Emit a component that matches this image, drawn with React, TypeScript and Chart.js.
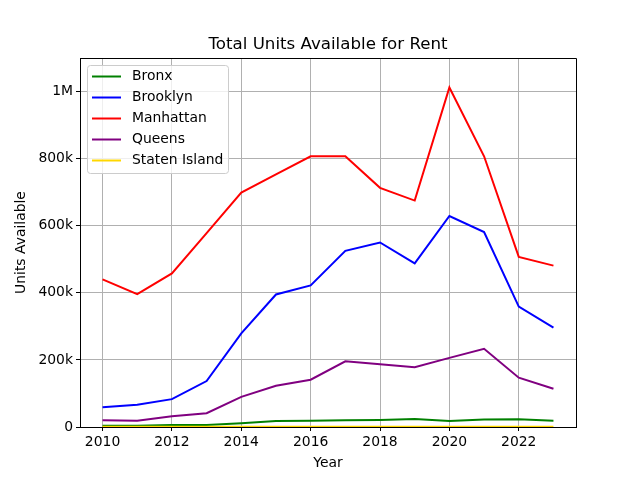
import React, { useEffect, useRef } from "react";
import { Chart, registerables } from "chart.js";

Chart.register(...registerables);

const years = [2010, 2011, 2012, 2013, 2014, 2015, 2016, 2017, 2018, 2019, 2020, 2021, 2022, 2023];
const bronx = [4000, 4000, 6000, 6000, 11000, 18000, 19000, 20000, 21000, 24000, 18000, 22000, 23000, 19000];
const brooklyn = [59000, 66000, 83000, 137000, 279000, 395000, 422000, 525000, 550000, 488000, 629000, 581000, 359000, 296000];
const manhattan = [440000, 396000, 458000, 578000, 699000, 753000, 807000, 807000, 713000, 675000, 1012000, 807000, 507000, 481000];
const queens = [20000, 19000, 32000, 41000, 90000, 123000, 141000, 196000, 187000, 178000, 206000, 233000, 147000, 114000];
const statenIsland = [1000, 1000, 1000, 1000, 1000, 1000, 1000, 1000, 1000, 1000, 1000, 1000, 1000, 1000];

const seriesNames = ["Bronx", "Brooklyn", "Manhattan", "Queens", "Staten Island"];
const seriesValues = [bronx, brooklyn, manhattan, queens, statenIsland];
const seriesColors = ["#008000", "#0000ff", "#ff0000", "#800080", "#ffd700"];

const xTicks = [2010, 2012, 2014, 2016, 2018, 2020, 2022];
const yTicks = [0, 200000, 400000, 600000, 800000, 1000000];

const FONT = "'DejaVu Sans', sans-serif";

function fmtY(v: number): string {
  if (v === 0) return "0";
  if (v >= 1000000) return v / 1000000 + "M";
  return v / 1000 + "k";
}

const framePlugin = {
  id: "frameAndLegend",
  afterDatasetsDraw(chart: any) {
    const { ctx, chartArea } = chart;
    ctx.save();
    // spines
    const l = Math.round(chartArea.left) + 0.5;
    const t = Math.round(chartArea.top) + 0.5;
    const r0 = Math.round(chartArea.right) + 0.5;
    const b = Math.round(chartArea.bottom) + 0.5;
    ctx.strokeStyle = "#000000";
    ctx.lineWidth = 1;
    ctx.beginPath();
    ctx.moveTo(l, t);
    ctx.lineTo(r0, t);
    ctx.lineTo(r0, b);
    ctx.lineTo(l, b);
    ctx.closePath();
    ctx.stroke();
    // legend
    const lx = chartArea.left + 7.5;
    const ly = chartArea.top + 7.5;
    const lw = 141;
    const lh = 108;
    const r = 3;
    ctx.beginPath();
    ctx.moveTo(lx + r, ly);
    ctx.lineTo(lx + lw - r, ly);
    ctx.arcTo(lx + lw, ly, lx + lw, ly + r, r);
    ctx.lineTo(lx + lw, ly + lh - r);
    ctx.arcTo(lx + lw, ly + lh, lx + lw - r, ly + lh, r);
    ctx.lineTo(lx + r, ly + lh);
    ctx.arcTo(lx, ly + lh, lx, ly + lh - r, r);
    ctx.lineTo(lx, ly + r);
    ctx.arcTo(lx, ly, lx + r, ly, r);
    ctx.closePath();
    ctx.fillStyle = "rgba(255,255,255,0.8)";
    ctx.fill();
    ctx.strokeStyle = "#cccccc";
    ctx.lineWidth = 1;
    ctx.stroke();
    ctx.font = "13.9px " + FONT;
    ctx.textBaseline = "middle";
    ctx.textAlign = "left";
    chart.data.datasets.forEach((ds: any, i: number) => {
      const cy = ly + 11 + i * 21;
      ctx.strokeStyle = ds.borderColor;
      ctx.lineWidth = 2;
      ctx.beginPath();
      ctx.moveTo(lx + 4.5, cy);
      ctx.lineTo(lx + 33.5, cy);
      ctx.stroke();
      ctx.fillStyle = "#000000";
      ctx.fillText(ds.label, lx + 44.5, cy);
    });
    ctx.restore();
  },
};

export default function App() {
  const canvasRef = useRef<HTMLCanvasElement | null>(null);

  useEffect(() => {
    if (!canvasRef.current) return;
    const datasets = seriesNames.map((name, i) => ({
      label: name,
      data: years.map((y, j) => ({ x: y, y: seriesValues[i][j] })),
      borderColor: seriesColors[i],
      backgroundColor: seriesColors[i],
      borderWidth: 2,
      pointRadius: 0,
      tension: 0,
      fill: false,
      order: seriesNames.length - i,
    }));
    const chart = new Chart(canvasRef.current, {
      type: "line",
      data: { datasets },
      options: {
        responsive: false,
        animation: false,
        devicePixelRatio: 1,
        layout: { padding: { left: 0, right: 64, top: 0, bottom: 0 } },
        plugins: {
          legend: { display: false },
          tooltip: { enabled: false },
          title: {
            display: true,
            fullSize: false,
            text: "Total Units Available for Rent",
            color: "#000000",
            font: { family: FONT, size: 16.67, weight: "normal", lineHeight: 1.2 },
            padding: { top: 35, bottom: 3 },
          },
        },
        scales: {
          x: {
            type: "linear",
            min: 2009.35,
            max: 2023.65,
            afterBuildTicks: (scale: any) => {
              scale.ticks = xTicks.map((v) => ({ value: v }));
            },
            afterFit: (scale: any) => {
              scale.height = 53;
            },
            ticks: {
              color: "#000000",
              font: { family: FONT, size: 13.9 },
              padding: 3,
              maxRotation: 0,
              callback: (v: any) => String(v),
            },
            grid: {
              color: "#b0b0b0",
              lineWidth: 1,
              tickColor: "#000000",
              tickLength: 4,
              drawTicks: true,
            },
            border: { display: true, color: "#000000", width: 1 },
            title: {
              display: true,
              text: "Year",
              color: "#000000",
              font: { family: FONT, size: 13.9 },
              padding: { top: 0, bottom: 8 },
            },
          },
          y: {
            type: "linear",
            min: 0,
            max: 1100000,
            afterBuildTicks: (scale: any) => {
              scale.ticks = yTicks.map((v) => ({ value: v }));
            },
            afterFit: (scale: any) => {
              scale.width = 80;
            },
            ticks: {
              color: "#000000",
              font: { family: FONT, size: 13.9 },
              padding: 3,
              callback: (v: any) => fmtY(Number(v)),
            },
            grid: {
              color: "#b0b0b0",
              lineWidth: 1,
              tickColor: "#000000",
              tickLength: 4,
              drawTicks: true,
            },
            border: { display: true, color: "#000000", width: 1 },
            title: {
              display: true,
              text: "Units Available",
              color: "#000000",
              font: { family: FONT, size: 13.9 },
              padding: { top: 13, bottom: 0 },
            },
          },
        },
      },
      plugins: [framePlugin],
    } as any);
    return () => chart.destroy();
  }, []);

  return (
    <div style={{ position: "fixed", left: 0, top: 0, width: 640, height: 480, background: "#ffffff" }}>
      <canvas ref={canvasRef} width={640} height={480} />
    </div>
  );
}
